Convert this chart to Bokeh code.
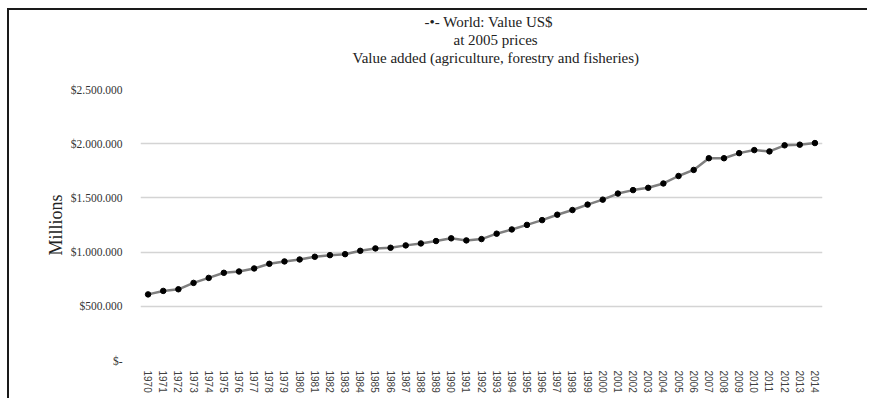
from bokeh.plotting import figure
from bokeh.models import FactorRange, Range1d, Title, FixedTicker
from bokeh.embed import file_html
from bokeh.resources import INLINE

years = ["1970", "1971", "1972", "1973", "1974", "1975", "1976", "1977", "1978", "1979",
         "1980", "1981", "1982", "1983", "1984", "1985", "1986", "1987", "1988", "1989",
         "1990", "1991", "1992", "1993", "1994", "1995", "1996", "1997", "1998", "1999",
         "2000", "2001", "2002", "2003", "2004", "2005", "2006", "2007", "2008", "2009",
         "2010", "2011", "2012", "2013", "2014"]
values = [610000, 642000, 657000, 716000, 762000, 809000, 821000, 849000, 892000, 914000,
          932000, 957000, 972000, 981000, 1012000, 1034000, 1040000, 1062000, 1080000, 1102000,
          1127000, 1108000, 1120000, 1170000, 1209000, 1251000, 1295000, 1345000, 1388000, 1438000,
          1484000, 1540000, 1572000, 1593000, 1633000, 1702000, 1758000, 1866000, 1866000, 1913000,
          1941000, 1929000, 1985000, 1991000, 2006000]
y_ticks = [0, 500000, 1000000, 1500000, 2000000, 2500000]
y_tick_labels = ["$-", "$500.000", "$1.000.000", "$1.500.000", "$2.000.000", "$2.500.000"]
title_lines = ["-\u2022- World: Value US$", "at 2005 prices",
               "Value added (agriculture, forestry and fisheries)"]
y_label = "Millions"

SERIF = "Liberation Serif"
SANS = "Liberation Sans"

p = figure(width=860, height=390,
           x_range=FactorRange(*years, range_padding=0),
           y_range=Range1d(0, 2500000),
           output_backend="svg", toolbar_location=None,
           min_border_left=131, min_border_right=47,
           min_border_top=79, min_border_bottom=40,
           styles={"margin-left": "9px", "margin-top": "10px",
                   "box-shadow": "-2px -2px 0 0 #1a1a1a"})
p.outline_line_color = None
p.background_fill_color = "white"
p.border_fill_color = "white"

p.line(years, values, line_color="#7f7f7f", line_width=2.5)
p.scatter(years, values, size=5.5, fill_color="black", line_color="black")

p.xgrid.grid_line_color = None
p.ygrid.grid_line_color = "#d4d4d4"
p.ygrid.grid_line_width = 1.5

xa = p.xaxis[0]
xa.axis_line_color = None
xa.major_tick_line_color = None
xa.minor_tick_line_color = None
xa.major_label_orientation = "vertical"
xa.major_label_text_font = SANS
xa.major_label_text_font_size = "10px"
xa.major_label_text_color = "#404040"
xa.major_label_standoff = 4

ya = p.yaxis[0]
ya.ticker = FixedTicker(ticks=y_ticks)
ya.major_label_overrides = {t: lab for t, lab in zip(y_ticks, y_tick_labels)}
ya.axis_line_color = None
ya.major_tick_line_color = None
ya.minor_tick_line_color = None
ya.major_label_text_font = SERIF
ya.major_label_text_font_size = "11.5px"
ya.major_label_text_color = "#333333"
ya.major_label_standoff = 12
ya.axis_label = y_label
ya.axis_label_text_font = SERIF
ya.axis_label_text_font_size = "18px"
ya.axis_label_text_font_style = "normal"
ya.axis_label_text_color = "#222222"
ya.axis_label_standoff = 2

# spacer between the plot area and the title block
p.add_layout(Title(text="\u00a0", text_font_size="1px", standoff=21), "above")
# titles: added innermost first (left-aligned, offset from the frame's left edge)
offsets = [284, 313, 212]
for txt, off in reversed(list(zip(title_lines, offsets))):
    p.add_layout(Title(text=txt, align="left", offset=off, standoff=0,
                       text_font=SERIF, text_font_size="15px", text_font_style="normal",
                       text_color="#222222"), "above")

open("out.html", "w").write(file_html(p, INLINE))
